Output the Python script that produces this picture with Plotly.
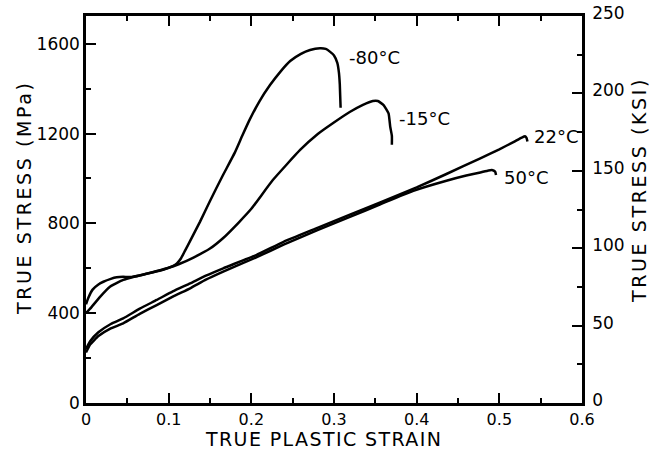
import plotly.graph_objects as go

# ---- data (true plastic strain, true stress MPa) ----
strain_m80 = [0, 0.003, 0.008, 0.015, 0.021, 0.03, 0.037, 0.045, 0.053, 0.065, 0.077, 0.09, 0.099,
              0.105, 0.11, 0.115, 0.12, 0.126, 0.138, 0.15, 0.165, 0.18, 0.189, 0.198, 0.21, 0.2226,
              0.235, 0.247, 0.26, 0.271, 0.283, 0.29, 0.295, 0.3, 0.304, 0.306, 0.307, 0.308]
stress_m80 = [440, 470, 505, 528, 540, 553, 560, 562, 561, 568, 579, 590, 601,
              610, 622, 645, 680, 722, 808, 900, 1010, 1115, 1190, 1262, 1345, 1416,
              1475, 1523, 1555, 1572, 1580, 1577, 1565, 1548, 1515, 1470, 1420, 1315]

strain_m15 = [0, 0.005, 0.017, 0.029, 0.045, 0.057, 0.077, 0.099, 0.112, 0.13, 0.15, 0.166, 0.185,
              0.2, 0.226, 0.259, 0.28, 0.299, 0.319, 0.335, 0.347, 0.353, 0.36, 0.366, 0.368, 0.37, 0.37]
stress_m15 = [400, 420, 473, 518, 548, 561, 579, 601, 618, 648, 688, 735, 805,
              865, 993, 1127, 1197, 1247, 1296, 1328, 1345, 1345, 1327, 1290, 1231, 1190, 1150]

strain_22 = [0, 0.005, 0.015, 0.03, 0.045, 0.065, 0.0855, 0.105, 0.126, 0.145, 0.166, 0.206, 0.239,
             0.28, 0.32, 0.356, 0.4, 0.436, 0.477, 0.5, 0.517, 0.527, 0.531, 0.533, 0.534]
stress_22 = [240, 275, 315, 352, 377, 420, 459, 497, 533, 567, 600, 659, 718,
             780, 840, 893, 960, 1020, 1090, 1130, 1162, 1182, 1188, 1180, 1165]

strain_50 = [0, 0.005, 0.015, 0.03, 0.045, 0.065, 0.0855, 0.105, 0.126, 0.145, 0.166, 0.206, 0.239,
             0.28, 0.32, 0.356, 0.396, 0.436, 0.46, 0.477, 0.487, 0.492, 0.495, 0.496]
stress_50 = [225, 260, 298, 332, 355, 397, 436, 474, 511, 549, 585, 649, 705,
             770, 830, 885, 945, 990, 1013, 1027, 1036, 1037, 1030, 1015]

labels = ["-80°C", "-15°C", "22°C", "50°C"]
x_ticks = [0, 0.1, 0.2, 0.3, 0.4, 0.5, 0.6]
x_ticktext = ["0", "0.1", "0.2", "0.3", "0.4", "0.5", "0.6"]
mpa_ticks = [0, 400, 800, 1200, 1600]
ksi_ticks = [0, 50, 100, 150, 200, 250]
KSI_TO_MPA = 6.894757

FONT = "DejaVu Sans"
LW = 2.5
fig = go.Figure()
for sx, sy, name in [(strain_m80, stress_m80, labels[0]), (strain_m15, stress_m15, labels[1]),
                     (strain_22, stress_22, labels[2]), (strain_50, stress_50, labels[3])]:
    fig.add_trace(go.Scatter(x=sx, y=sy, mode="lines", name=name,
                             line=dict(color="black", width=LW, shape="spline", smoothing=0.4),
                             showlegend=False))

# invisible trace for right axis
fig.add_trace(go.Scatter(x=[0], y=[0], yaxis="y2", mode="markers",
                         marker=dict(opacity=0), showlegend=False, hoverinfo="skip"))

ymax_mpa = 250 * KSI_TO_MPA
tick_common = dict(ticks="inside", ticklen=10, tickwidth=2, tickcolor="black",
                   showline=True, linewidth=LW, linecolor="black", automargin=False,
                   showgrid=False, zeroline=False)

fig.update_layout(
    width=652, height=450,
    margin=dict(l=86, r=70, t=16, b=47),
    plot_bgcolor="white", paper_bgcolor="white",
    font=dict(family=FONT, color="black", size=16),
    xaxis=dict(range=[0, 0.6], tickvals=x_ticks, ticktext=x_ticktext, mirror="ticks",
               minor=dict(dtick=0.05, ticks="inside", ticklen=5, tickwidth=2, tickcolor="black"),
               ticklabelstandoff=0, tickfont=dict(size=16), **tick_common),
    yaxis=dict(range=[0, ymax_mpa], tickvals=mpa_ticks, tickfont=dict(size=17),
               minor=dict(dtick=200, ticks="inside", ticklen=5, tickwidth=2, tickcolor="black"),
               **tick_common),
    yaxis2=dict(range=[0, 250], overlaying="y", side="right", tickvals=ksi_ticks,
                tickfont=dict(size=17),
                minor=dict(dtick=25, ticks="inside", ticklen=5, tickwidth=2, tickcolor="black"),
                ticklabelstandoff=4, ticklabelshift=-3, **tick_common),
)

# axis titles as annotations (placed like the reference)
def spaced(t, ls):
    return f'<span style="letter-spacing:{ls}px">{t}</span>'

fig.add_annotation(x=(323 - 86) / 496, y=-(439 - 403) / 387, xref="paper", yref="paper",
                   text=spaced("TRUE PLASTIC STRAIN", 1.4), showarrow=False,
                   xanchor="center", yanchor="middle", font=dict(size=19))
fig.add_annotation(x=(24 - 86) / 496, y=(403 - 198) / 387, xref="paper", yref="paper",
                   text=spaced("TRUE STRESS (MPa)", 2.6), showarrow=False, textangle=-90,
                   xanchor="center", yanchor="middle", font=dict(size=19))
fig.add_annotation(x=(639 - 86) / 496, y=(403 - 190) / 387, xref="paper", yref="paper",
                   text=spaced("TRUE STRESS (KSI)", 2.6), showarrow=False, textangle=-90,
                   xanchor="center", yanchor="middle", font=dict(size=19))

ann_pos = [(0.316, 1541), (0.376, 1269), (0.5395, 1186), (0.503, 1004)]
for (ax, ay), txt in zip(ann_pos, labels):
    fig.add_annotation(x=ax, y=ay, xref="x", yref="y", text=txt, showarrow=False,
                       xanchor="left", yanchor="middle", font=dict(size=18, family=FONT))

fig.write_html("out.html")
